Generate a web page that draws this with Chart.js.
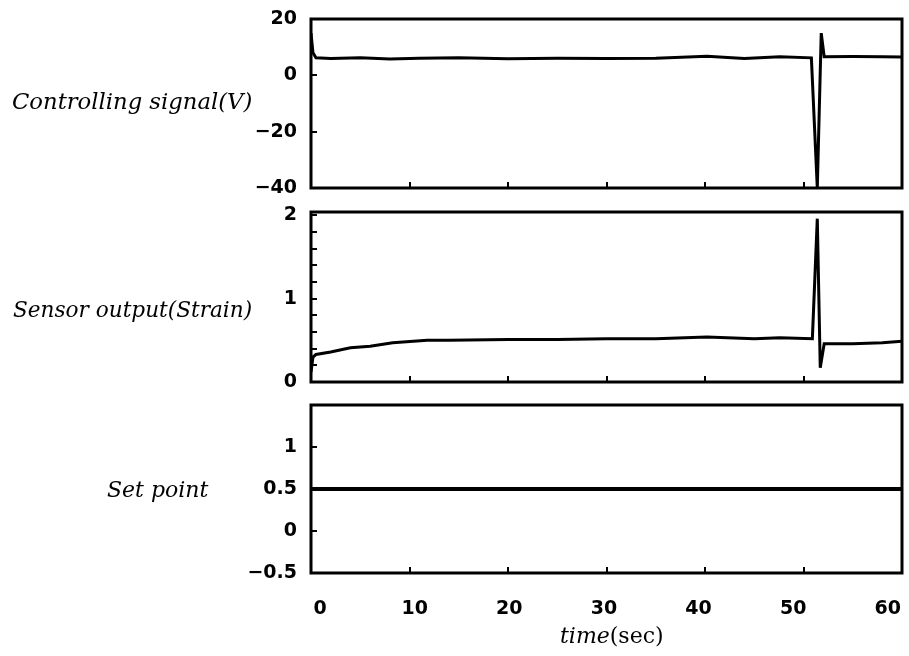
<!DOCTYPE html>
<html>
<head>
<meta charset="utf-8">
<script src="https://cdn.jsdelivr.net/npm/chart.js@4"></script>
<style>
  body { margin: 0; background: #fff; width: 909px; height: 656px; position: relative; overflow: hidden; }
  .panel { position: absolute; left: 0; width: 909px; }
  .lbl { position: absolute; font-family: "DejaVu Serif", serif; font-style: italic; font-size: 22px; color: #000; white-space: nowrap; line-height: 1; }
</style>
</head>
<body>
<div class="panel" style="top:0;height:200px"><canvas id="c1"></canvas></div>
<div class="panel" style="top:200px;height:200px"><canvas id="c2"></canvas></div>
<div class="panel" style="top:395px;height:261px"><canvas id="c3"></canvas></div>

<div class="lbl" id="t1" style="left:12px;top:90px;font-size:22.7px">Controlling signal(V)</div>
<div class="lbl" id="t2" style="left:13px;top:299px;font-size:21.6px">Sensor output(Strain)</div>
<div class="lbl" id="t3" style="left:107px;top:479px">Set point</div>
<div class="lbl" id="t4" style="left:560px;top:625px">time<span style="font-style:normal">(sec)</span></div>

<script>
// controlling signal (V)
const ctrlTime   = [0, 0.2, 0.5, 2, 5, 8, 11, 15, 20, 25, 30, 35, 40.2, 44, 47.6, 50.8, 51.4, 51.8, 52.1, 55, 58, 60];
const ctrlSignal = [15, 8, 6.2, 6.0, 6.2, 5.8, 6.1, 6.2, 5.9, 6.1, 6.0, 6.1, 6.8, 6.0, 6.6, 6.2, -40, 15, 6.6, 6.7, 6.6, 6.5];

// sensor output (strain)
const sensTime   = [0, 0.2, 0.5, 2, 4, 6, 8.3, 11.8, 14, 20, 25, 30, 35, 40.2, 45, 47.6, 50.9, 51.4, 51.7, 52.1, 55, 58, 60];
const sensStrain = [0.12, 0.3, 0.33, 0.36, 0.41, 0.43, 0.47, 0.5, 0.5, 0.51, 0.51, 0.52, 0.52, 0.54, 0.52, 0.53, 0.52, 1.96, 0.17, 0.46, 0.46, 0.47, 0.49];

// set point
const setTime  = [0, 60];
const setValue = [0.5, 0.5];

const TICK_FONT = { family: 'DejaVu Sans', size: 19, weight: 'bold' };

const boxPlugin = {
  id: 'box',
  afterDraw(chart) {
    const a = chart.chartArea, ctx = chart.ctx;
    ctx.save();
    ctx.strokeStyle = '#000';
    ctx.lineWidth = 3;
    ctx.strokeRect(a.left, a.top, a.right - a.left, a.bottom - a.top);
    ctx.restore();
  }
};

function minus(v) { return String(v).replace('-', '\u2212'); }

// no automatic label padding, the layout padding alone places the box
function noPad(s) {
  s.paddingTop = 0; s.paddingBottom = 0; s.paddingLeft = 0; s.paddingRight = 0;
}

function panel(id, xs, ys, width, yScale, pad, withLabels) {
  const scales = {
    x: {
      type: 'linear', min: 0, max: 60, weight: 0,
      ticks: { display: false, stepSize: 10 },
      grid: { drawOnChartArea: false, tickLength: -6, color: '#000', lineWidth: 2 },
      border: { display: false },
      afterFit: s => { s.height = 0; noPad(s); }
    },
    y: Object.assign({
      position: 'left',
      grid: { drawOnChartArea: false, tickLength: -6, color: '#000', lineWidth: 2 },
      border: { display: false },
      afterFit: s => { s.width = 311; noPad(s); }
    }, yScale)
  };
  if (withLabels) {
    scales.xl = {
      type: 'linear', position: 'bottom', min: -0.95, max: 61.5, weight: 1,
      ticks: { stepSize: 10, includeBounds: false, padding: 25, color: '#000', font: TICK_FONT },
      grid: { display: false, drawTicks: false },
      border: { display: false },
      afterFit: s => { s.height = 83; noPad(s); }
    };
  }
  return new Chart(document.getElementById(id), {
    type: 'line',
    data: {
      datasets: [{
        data: xs.map((t, i) => ({ x: t, y: ys[i] })),
        borderColor: '#000',
        borderWidth: width,
        pointRadius: 0,
        tension: 0,
        fill: false
      }]
    },
    options: {
      responsive: true,
      maintainAspectRatio: false,
      animation: false,
      layout: { padding: pad },
      plugins: { legend: { display: false }, tooltip: { enabled: false } },
      scales: scales
    },
    plugins: [boxPlugin]
  });
}

panel('c1', ctrlTime, ctrlSignal, 3, {
  min: -40, max: 20,
  ticks: { stepSize: 20, padding: 20, color: '#000', font: TICK_FONT, callback: v => minus(v) }
}, { top: 19, bottom: 12, left: 0, right: 7 }, false);

panel('c2', sensTime, sensStrain, 3, {
  min: 0, max: 2.04,
  ticks: {
    stepSize: 0.2, includeBounds: false, padding: 20, color: '#000', font: TICK_FONT, autoSkip: false,
    callback: v => Math.abs(v - Math.round(v)) < 1e-6 ? String(Math.round(v)) : ''
  }
}, { top: 12, bottom: 18, left: 0, right: 7 }, false);

panel('c3', setTime, setValue, 4, {
  min: -0.5, max: 1.5,
  ticks: {
    stepSize: 0.5, padding: 20, color: '#000', font: TICK_FONT,
    callback: v => v > 1.2 ? '' : minus(v)
  }
}, { top: 10, bottom: 0, left: 0, right: 7 }, true);
</script>
</body>
</html>
